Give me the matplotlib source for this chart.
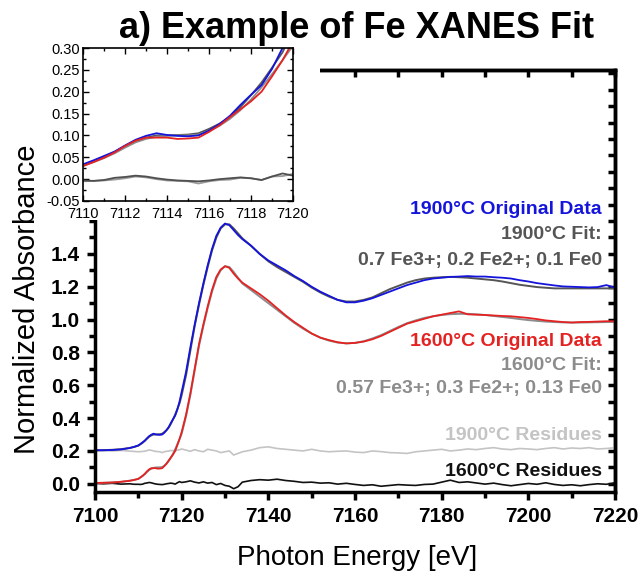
import numpy as np
import matplotlib
matplotlib.use("Agg")
import matplotlib.pyplot as plt
from matplotlib.patches import Rectangle
from matplotlib.ticker import MultipleLocator, FixedLocator, FormatStrFormatter

plt.rcParams['font.family'] = ['Liberation Sans', 'DejaVu Sans']

# Photon energy grid (eV)
energy = [7100, 7102, 7104, 7106, 7108, 7109,
          7110, 7110.5, 7111, 7111.5, 7112, 7112.5, 7113, 7113.5, 7114, 7114.5,
          7115, 7115.5, 7116, 7116.5, 7117, 7117.5, 7118, 7118.5, 7119, 7119.5, 7120,
          7121, 7122, 7123, 7124, 7125, 7126, 7127, 7128, 7129, 7130, 7131, 7132, 7133, 7134,
          7136, 7138, 7140, 7142, 7144, 7146, 7148, 7150, 7152, 7154, 7156, 7158, 7160, 7162,
          7164, 7166, 7168, 7170, 7172, 7174, 7176, 7178, 7180, 7182, 7184, 7186, 7188, 7190,
          7192, 7194, 7196, 7198, 7200, 7202, 7204, 7206, 7208, 7210, 7212, 7214, 7216, 7218, 7220]

# 1900 C original data (shifted up by 0.2 in the main plot)
data_1900 = [0.205, 0.204, 0.206, 0.209, 0.218, 0.225,
             0.234, 0.243, 0.253, 0.263, 0.277, 0.290, 0.299, 0.305, 0.301, 0.299,
             0.298, 0.300, 0.311, 0.326, 0.345, 0.370, 0.393, 0.415, 0.452, 0.500, 0.560,
             0.68, 0.83, 0.97, 1.10, 1.22, 1.33, 1.43, 1.51, 1.56, 1.585, 1.575, 1.545, 1.515, 1.49,
             1.45, 1.40, 1.36, 1.33, 1.30, 1.265, 1.235, 1.20, 1.17, 1.145, 1.12, 1.105, 1.105, 1.115,
             1.13, 1.15, 1.17, 1.19, 1.21, 1.225, 1.24, 1.25, 1.255, 1.26, 1.262, 1.265, 1.262, 1.262,
             1.258, 1.255, 1.25, 1.24, 1.232, 1.222, 1.215, 1.208, 1.202, 1.20, 1.198, 1.196, 1.198, 1.21, 1.195]

fit_1900 = [0.204, 0.205, 0.207, 0.211, 0.218, 0.224,
            0.232, 0.241, 0.250, 0.262, 0.275, 0.287, 0.295, 0.300, 0.300, 0.301,
            0.302, 0.305, 0.315, 0.327, 0.342, 0.365, 0.392, 0.421, 0.455, 0.490, 0.540,
            0.66, 0.81, 0.96, 1.09, 1.21, 1.32, 1.42, 1.50, 1.555, 1.58, 1.58, 1.555, 1.525, 1.495,
            1.45, 1.40, 1.355, 1.32, 1.29, 1.26, 1.23, 1.195, 1.165, 1.14, 1.12, 1.11, 1.11, 1.12,
            1.135, 1.16, 1.185, 1.205, 1.225, 1.24, 1.25, 1.255, 1.258, 1.26, 1.258, 1.255, 1.25, 1.245,
            1.24, 1.232, 1.222, 1.212, 1.205, 1.198, 1.194, 1.19, 1.19, 1.19, 1.19, 1.19, 1.19, 1.19, 1.19]

# 1600 C original data
data_1600 = [0.005, 0.006, 0.008, 0.012, 0.018, 0.023,
             0.030, 0.039, 0.049, 0.061, 0.076, 0.088, 0.095, 0.095, 0.095, 0.092,
             0.093, 0.095, 0.108, 0.123, 0.142, 0.160, 0.178, 0.200, 0.235, 0.272, 0.315,
             0.42, 0.55, 0.70, 0.85, 0.97, 1.08, 1.18, 1.26, 1.305, 1.325, 1.315, 1.28, 1.25, 1.225,
             1.19, 1.155, 1.115, 1.07, 1.025, 0.985, 0.95, 0.915, 0.89, 0.875, 0.862, 0.855, 0.858, 0.866,
             0.88, 0.90, 0.925, 0.95, 0.975, 0.99, 1.005, 1.02, 1.03, 1.04, 1.05, 1.032, 1.03, 1.028,
             1.025, 1.022, 1.02, 1.015, 1.01, 1.003, 0.995, 0.99, 0.985, 0.982, 0.985, 0.986, 0.988, 0.99, 0.99]

fit_1600 = [0.004, 0.006, 0.008, 0.012, 0.019, 0.024,
            0.030, 0.039, 0.048, 0.059, 0.072, 0.084, 0.092, 0.097, 0.099, 0.100,
            0.100, 0.102, 0.110, 0.122, 0.138, 0.158, 0.182, 0.210, 0.240, 0.272, 0.305,
            0.41, 0.54, 0.69, 0.84, 0.96, 1.07, 1.17, 1.25, 1.30, 1.325, 1.32, 1.29, 1.255, 1.22,
            1.18, 1.14, 1.10, 1.06, 1.02, 0.98, 0.945, 0.915, 0.89, 0.872, 0.86, 0.855, 0.858, 0.868,
            0.885, 0.905, 0.93, 0.955, 0.978, 0.995, 1.01, 1.02, 1.028, 1.033, 1.035, 1.035, 1.032, 1.028,
            1.022, 1.016, 1.01, 1.003, 0.997, 0.992, 0.988, 0.985, 0.983, 0.982, 0.982, 0.983, 0.984, 0.985, 0.986]

# residues (1900 shifted up by 0.2)
resid_1900 = [0.198, 0.202, 0.200, 0.203, 0.199, 0.197,
              0.195, 0.196, 0.197, 0.199, 0.202, 0.206, 0.204, 0.200, 0.197, 0.196,
              0.195, 0.190, 0.195, 0.198, 0.199, 0.203, 0.202, 0.198, 0.206, 0.207, 0.212,
              0.205, 0.198, 0.208, 0.200, 0.195, 0.210, 0.205, 0.200, 0.190, 0.195, 0.200, 0.175, 0.185, 0.195,
              0.205, 0.220, 0.225, 0.215, 0.210, 0.205, 0.200, 0.210, 0.200, 0.195, 0.198, 0.200, 0.193, 0.190,
              0.200, 0.196, 0.190, 0.188, 0.185, 0.195, 0.200, 0.205, 0.210, 0.200, 0.205, 0.212, 0.208, 0.215,
              0.220, 0.212, 0.208, 0.215, 0.212, 0.208, 0.215, 0.220, 0.212, 0.218, 0.215, 0.220, 0.212, 0.215, 0.220]

resid_1600 = [0.002, 0.000, 0.003, -0.002, 0.000, -0.003,
              -0.003, -0.004, -0.002, 0.003, 0.005, 0.008, 0.006, 0.002, -0.001, -0.003,
              -0.004, -0.005, -0.003, 0.000, 0.002, 0.004, 0.002, -0.002, 0.006, 0.013, 0.008,
              0.012, 0.018, 0.010, 0.005, 0.012, 0.004, 0.008, -0.005, 0.002, -0.010, -0.015, -0.030, -0.018, 0.010,
              0.020, 0.025, 0.022, 0.028, 0.020, 0.015, 0.008, 0.010, 0.004, 0.006, -0.002, 0.003, -0.004, -0.010,
              -0.006, -0.015, -0.010, -0.005, -0.008, -0.010, -0.004, -0.002, 0.010, 0.022, 0.008, 0.012, 0.005, -0.002,
              0.004, -0.005, -0.012, -0.005, 0.002, -0.003, 0.006, -0.004, -0.010, -0.006, -0.012, -0.005, 0.000, -0.003, 0.006]

offset_1900 = 0.2
y_ticks = [0.0, 0.2, 0.4, 0.6, 0.8, 1.0, 1.2, 1.4]

blue = '#1414dc'
red = '#e52222'
dark_grey = '#555555'
mid_grey = '#8c8c8c'
light_grey = '#c4c4c4'

fig = plt.figure(figsize=(6.42, 5.73), dpi=100)
W, H = 642, 573

# --- main axes ---
ax = fig.add_axes([95 / W, 81 / H, 520 / W, 422 / H])
ax.plot(energy, resid_1900, color=light_grey, lw=1.2)
ax.plot(energy, resid_1600, color='#111111', lw=1.2)
ax.plot(energy, fit_1900, color=dark_grey, lw=1.4)
ax.plot(energy, fit_1600, color=mid_grey, lw=1.4)
ax.plot(energy, data_1900, color=blue, lw=1.3)
ax.plot(energy, data_1600, color=red, lw=1.3)

ax.set_xlim(7100, 7220)
ax.set_ylim(-0.05, 2.52)
ax.xaxis.set_major_locator(MultipleLocator(20))
ax.xaxis.set_minor_locator(MultipleLocator(10))
ax.yaxis.set_major_locator(FixedLocator(y_ticks))
ax.yaxis.set_minor_locator(MultipleLocator(0.1))
ax.yaxis.set_major_formatter(FormatStrFormatter('%.1f'))
ax.tick_params(which='major', direction='out', length=6, width=2.5,
               labelsize=15, pad=5, top=False, right=False)
ax.tick_params(which='minor', direction='out', length=4, width=2.5, top=False, right=False)
for lab in ax.get_xticklabels() + ax.get_yticklabels():
    lab.set_fontweight('bold')
for s in ax.spines.values():
    s.set_linewidth(2.5)

sec_y = ax.secondary_yaxis('right')
sec_y.yaxis.set_major_locator(MultipleLocator(0.1))
sec_y.tick_params(direction='in', length=5, width=2.5, labelright=False)
sec_y.spines['right'].set_linewidth(2.5)
sec_x = ax.secondary_xaxis('top')
sec_x.xaxis.set_major_locator(MultipleLocator(10))
sec_x.tick_params(direction='in', length=5, width=2.5, labeltop=False)
sec_x.spines['top'].set_linewidth(2.5)

# labels on the curves
tx = 0.975
def ylab(px):
    return (492 - px) / 422

labels = [
    (209, '1900°C Original Data', blue),
    (234, '1900°C Fit:', dark_grey),
    (260, '0.7 Fe3+; 0.2 Fe2+; 0.1 Fe0', dark_grey),
    (342, '1600°C Original Data', red),
    (366, '1600°C Fit:', mid_grey),
    (389, '0.57 Fe3+; 0.3 Fe2+; 0.13 Fe0', mid_grey),
    (435, '1900°C Residues', light_grey),
    (471, '1600°C Residues', '#111111'),
]
for py, txt, col in labels:
    ax.text(tx, ylab(py), txt, color=col, fontsize=14, fontweight='bold',
            ha='right', va='center', transform=ax.transAxes)

# white box behind the inset
fig.add_artist(Rectangle((45 / W, 1 - 220 / H), (320 - 45) / W, (220 - 34) / H,
                         transform=fig.transFigure, facecolor='white',
                         edgecolor='none', zorder=1))

# --- inset: pre-edge zoom ---
ins = fig.add_axes([83 / W, 1 - 201 / H, 210 / W, 153 / H])
ins.set_zorder(2)
e = np.array(energy)
ins.plot(e, np.array(resid_1900) - offset_1900, color='#9a9a9a', lw=1.3)
ins.plot(e, resid_1600, color='#505050', lw=1.3)
ins.plot(e, np.array(fit_1900) - offset_1900, color=dark_grey, lw=1.3)
ins.plot(e, fit_1600, color=mid_grey, lw=1.3)
ins.plot(e, np.array(data_1900) - offset_1900, color=blue, lw=1.3)
ins.plot(e, data_1600, color=red, lw=1.3)
ins.set_xlim(7110, 7120)
ins.set_ylim(-0.05, 0.30)
ins.xaxis.set_major_locator(MultipleLocator(2))
ins.xaxis.set_minor_locator(MultipleLocator(1))
ins.yaxis.set_major_locator(MultipleLocator(0.05))
ins.yaxis.set_minor_locator(MultipleLocator(0.025))
ins.yaxis.set_major_formatter(FormatStrFormatter('%.2f'))
ins.tick_params(which='both', direction='in', top=True, right=True,
                labelsize=10.5, pad=2)
ins.tick_params(axis='x', pad=4)
ins.tick_params(which='major', length=4, width=1)
ins.tick_params(which='minor', length=2, width=1)
for s in ins.spines.values():
    s.set_linewidth(1.2)

fig.text(357 / W, 1 - 29 / H, 'a) Example of Fe XANES Fit', fontsize=26,
         fontweight='bold', ha='center', va='center')
fig.text(357 / W, 1 - 558 / H, 'Photon Energy [eV]', fontsize=20,
         ha='center', va='center')
fig.text(27 / W, 1 - 299 / H, 'Normalized Absorbance', fontsize=21,
         rotation=90, ha='center', va='center')

fig.savefig('out.png', dpi=100)
